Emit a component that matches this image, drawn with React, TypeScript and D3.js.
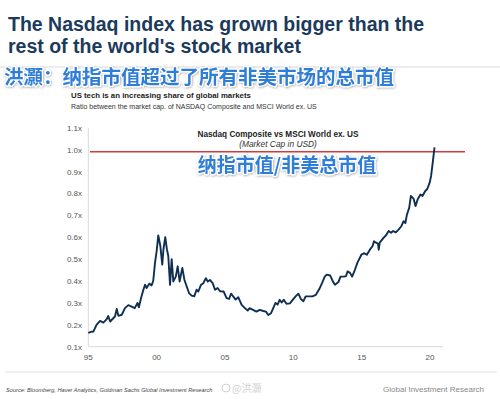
import React, { useEffect, useRef } from 'react';
import * as d3 from 'd3';

// decimal years and ratio (Nasdaq Composite mkt cap / MSCI World ex US mkt cap)
const dates = [
  1995.0, 1995.2, 1995.37, 1995.6, 1995.86, 1996.1, 1996.35, 1996.46, 1996.6, 1996.95,
  1997.08, 1997.2, 1997.45, 1997.68, 1997.93, 1998.17, 1998.4, 1998.6, 1998.7, 1998.86,
  1999.03, 1999.15, 1999.27, 1999.46, 1999.63, 1999.75, 1999.88, 2000.0, 2000.12, 2000.27,
  2000.41, 2000.5, 2000.63, 2000.75, 2000.85, 2000.98, 2001.1, 2001.22, 2001.4, 2001.54,
  2001.68, 2001.88, 2002.03, 2002.2, 2002.37, 2002.56, 2002.75, 2002.92, 2003.05, 2003.25,
  2003.42, 2003.6, 2003.74, 2003.9, 2004.1, 2004.27, 2004.46, 2004.64, 2004.9, 2005.12,
  2005.3, 2005.44, 2005.6, 2005.78, 2005.97, 2006.22, 2006.46, 2006.66, 2006.8, 2007.05,
  2007.3, 2007.55, 2007.8, 2008.0, 2008.17, 2008.37, 2008.53, 2008.7, 2008.85, 2009.0,
  2009.15, 2009.3, 2009.5, 2009.75, 2010.0, 2010.2, 2010.37, 2010.56, 2010.74, 2010.9,
  2011.15, 2011.4, 2011.65, 2011.9, 2012.1, 2012.3, 2012.44, 2012.7, 2012.92, 2013.05,
  2013.3, 2013.45, 2013.7, 2013.85, 2013.97, 2014.15, 2014.3, 2014.5, 2014.7, 2014.98,
  2015.2, 2015.38, 2015.6, 2015.8, 2015.9, 2016.05, 2016.2, 2016.25, 2016.32, 2016.6,
  2016.8, 2016.97, 2017.15, 2017.3, 2017.5, 2017.7, 2017.9, 2018.07, 2018.2, 2018.3,
  2018.48, 2018.6, 2018.8, 2018.94, 2019.1, 2019.3, 2019.45, 2019.64, 2019.8, 2019.98,
  2020.08, 2020.2, 2020.28, 2020.33,
];
const ratios = [
  0.163, 0.168, 0.169, 0.2, 0.218, 0.21, 0.226, 0.24, 0.215, 0.238,
  0.272, 0.241, 0.246, 0.276, 0.29, 0.283, 0.276, 0.3, 0.28, 0.322,
  0.36, 0.383, 0.368, 0.388, 0.38, 0.4, 0.483, 0.536, 0.608, 0.56,
  0.475, 0.545, 0.6, 0.545, 0.515, 0.383, 0.5, 0.398, 0.42, 0.467,
  0.398, 0.46, 0.406, 0.375, 0.345, 0.333, 0.33, 0.36, 0.352, 0.383,
  0.39, 0.413, 0.398, 0.405, 0.39, 0.36, 0.368, 0.353, 0.352, 0.322,
  0.318, 0.342, 0.33, 0.315, 0.326, 0.291, 0.276, 0.265, 0.276, 0.268,
  0.26, 0.268, 0.263, 0.26, 0.245, 0.253, 0.276, 0.3, 0.292, 0.314,
  0.302, 0.314, 0.296, 0.298, 0.317, 0.332, 0.342, 0.317, 0.308, 0.33,
  0.33, 0.33, 0.337, 0.363, 0.39, 0.42, 0.429, 0.425, 0.395, 0.383,
  0.395, 0.42, 0.42, 0.422, 0.444, 0.437, 0.42, 0.45, 0.485, 0.52,
  0.527, 0.52, 0.543, 0.56, 0.582, 0.575, 0.57, 0.543, 0.575, 0.597,
  0.61, 0.628, 0.62, 0.628, 0.622, 0.635, 0.65, 0.673, 0.665, 0.7,
  0.735, 0.788, 0.776, 0.742, 0.773, 0.795, 0.788, 0.81, 0.82, 0.85,
  0.88, 0.94, 0.984, 1.01,
];

const yTicks = [0.1, 0.2, 0.3, 0.4, 0.5, 0.6, 0.7, 0.8, 0.9, 1.0, 1.1];
const xTicks = [1995, 2000, 2005, 2010, 2015, 2020];
const parityLevel = 0.99;

const App = () => {
  const ref = useRef(null);

  useEffect(() => {
    const svg = d3.select(ref.current);
    svg.selectAll('*').remove();

    const sans = 'Liberation Sans, Arial, sans-serif';
    const cjk = 'Noto Sans CJK SC, sans-serif';

    const x = d3.scaleLinear().domain([1995, 2020]).range([88.3, 430]);
    const y = d3.scaleLinear().domain([0.1, 1.1]).range([346.7, 127.7]);

    // titles
    svg.append('text').attr('x', 8).attr('y', 31).text('The Nasdaq index has grown bigger than the')
      .style('font-family', sans).style('font-weight', 'bold').style('font-size', '19.5px').style('fill', '#1b3a5c');
    svg.append('text').attr('x', 8).attr('y', 53).text("rest of the world's stock market")
      .style('font-family', sans).style('font-weight', 'bold').style('font-size', '19.5px').style('fill', '#1b3a5c');

    svg.append('line').attr('x1', 0).attr('x2', 500).attr('y1', 67).attr('y2', 67)
      .style('stroke', '#dcdcdc').style('stroke-width', 1);

    const defs = svg.append('defs');
    const f = defs.append('filter').attr('id', 'shadow').attr('x', '-5%').attr('y', '-20%').attr('width', '110%').attr('height', '150%');
    f.append('feDropShadow').attr('dx', 0.6).attr('dy', 0.8).attr('stdDeviation', 0.8).attr('flood-color', '#000').attr('flood-opacity', 0.35);

    svg.append('text').attr('x', 4).attr('y', 84).text('洪灝：纳指市值超过了所有非美市场的总市值')
      .attr('filter', 'url(#shadow)')
      .style('font-family', cjk).style('font-weight', 'bold').style('font-size', '19.5px')
      .style('fill', '#2f7ed8').style('stroke', '#fff').style('stroke-width', 2.5)
      .style('paint-order', 'stroke').style('stroke-linejoin', 'round');

    svg.append('text').attr('x', 71).attr('y', 97.5).text('US tech is an increasing share of global markets')
      .style('font-family', sans).style('font-weight', 'bold').style('font-size', '7.8px').style('fill', '#222');
    svg.append('text').attr('x', 71).attr('y', 109).text('Ratio between the market cap. of NASDAQ Composite and MSCI World ex. US')
      .style('font-family', sans).style('font-size', '7px').style('fill', '#333');

    // axes
    svg.append('line').attr('x1', x(1995)).attr('x2', x(1995)).attr('y1', y(1.1)).attr('y2', y(0.1))
      .style('stroke', '#d9d9d9');
    svg.append('line').attr('x1', x(1995)).attr('x2', 443).attr('y1', y(0.1)).attr('y2', y(0.1))
      .style('stroke', '#d9d9d9');

    svg.append('g').selectAll('text').data(yTicks).enter().append('text')
      .attr('x', 82).attr('y', d => y(d) + 3)
      .attr('text-anchor', 'end')
      .text(d => d3.format('.1f')(d) + 'x')
      .style('font-family', sans).style('font-size', '8px').style('fill', '#555');

    svg.append('g').selectAll('text').data(xTicks).enter().append('text')
      .attr('x', d => x(d)).attr('y', 360)
      .attr('text-anchor', 'middle')
      .text(d => String(d).slice(2))
      .style('font-family', sans).style('font-size', '8px').style('fill', '#555');

    // parity line
    svg.append('line').attr('x1', 90).attr('x2', 465).attr('y1', y(parityLevel)).attr('y2', y(parityLevel))
      .style('stroke', '#d23b3b').style('stroke-width', 1.4);

    // inner chart title
    svg.append('text').attr('x', 278).attr('y', 137).attr('text-anchor', 'middle')
      .text('Nasdaq Composite vs MSCI World ex. US')
      .style('font-family', sans).style('font-weight', 'bold').style('font-size', '8.2px').style('fill', '#222');
    svg.append('text').attr('x', 278).attr('y', 146.5).attr('text-anchor', 'middle')
      .text('(Market Cap in USD)')
      .style('font-family', sans).style('font-style', 'italic').style('font-size', '8.4px').style('fill', '#333');

    svg.append('text').attr('x', 287).attr('y', 172).attr('text-anchor', 'middle')
      .text('纳指市值/非美总市值')
      .attr('filter', 'url(#shadow)')
      .style('font-family', cjk).style('font-weight', 'bold').style('font-size', '19px')
      .style('fill', '#2f7ed8').style('stroke', '#fff').style('stroke-width', 2.5)
      .style('paint-order', 'stroke').style('stroke-linejoin', 'round');

    // series
    const line = d3.line().x(i => x(dates[i])).y(i => y(ratios[i]));
    svg.append('path').datum(d3.range(dates.length)).attr('d', line)
      .style('fill', 'none').style('stroke', '#0f2f52').style('stroke-width', 1.9)
      .style('stroke-linejoin', 'round');

    // footer
    svg.append('line').attr('x1', 5).attr('x2', 497).attr('y1', 372).attr('y2', 372)
      .style('stroke', '#e2e2e2');
    svg.append('text').attr('x', 6).attr('y', 392)
      .text('Source: Bloomberg, Haver Analytics, Goldman Sachs Global Investment Research')
      .style('font-family', sans).style('font-style', 'italic').style('font-size', '5.65px').style('fill', '#444');
    svg.append('text').attr('x', 232).attr('y', 392).text('@洪灝')
      .style('font-family', cjk).style('font-size', '10px').style('fill', '#d0d0d0');
    svg.append('circle').attr('cx', 226).attr('cy', 388).attr('r', 4)
      .style('fill', 'none').style('stroke', '#d0d0d0');
    svg.append('text').attr('x', 484).attr('y', 392).attr('text-anchor', 'end')
      .text('Global Investment Research')
      .style('font-family', sans).style('font-size', '8px').style('fill', '#888');
  }, []);

  return (
    <svg ref={ref} width={500} height={399}
      style={{ position: 'absolute', left: 0, top: 0, background: '#fff' }}></svg>
  );
};

export default App;
